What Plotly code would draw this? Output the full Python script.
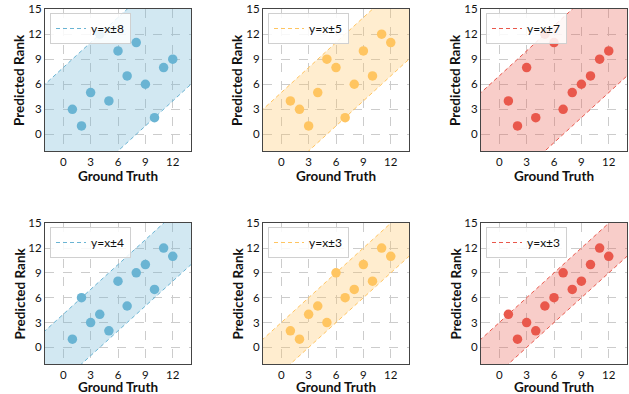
import plotly.graph_objects as go

ground_truth = [1, 2, 3, 4, 5, 6, 7, 8, 9, 10, 11, 12]
pred_1 = [3, 1, 5, 12, 4, 10, 7, 11, 6, 2, 8, 9]
pred_2 = [4, 3, 1, 5, 9, 8, 2, 6, 10, 7, 12, 11]
pred_3 = [4, 1, 8, 2, 12, 11, 3, 5, 6, 7, 9, 10]
pred_4 = [1, 6, 3, 4, 2, 8, 5, 9, 10, 7, 12, 11]
pred_5 = [2, 1, 4, 5, 3, 9, 6, 7, 10, 8, 12, 11]
pred_6 = [4, 1, 3, 2, 5, 6, 9, 7, 8, 10, 12, 11]
margins = [8, 5, 7, 4, 3, 3]
x_ticks = [0, 3, 6, 9, 12]
y_ticks = [0, 3, 6, 9, 12, 15]
x_title = "Ground Truth"
y_title = "Predicted Rank"

preds = [pred_1, pred_2, pred_3, pred_4, pred_5, pred_6]
colors = ["#6AB4D3", "#FFC561", "#E9584C"] * 2
fills = ["rgba(106,180,211,0.3)", "rgba(255,197,97,0.3)", "rgba(233,88,76,0.3)"] * 2

W, H = 629, 394
col_px = [(45, 191), (263, 409), (481, 627)]
row_px = [(9, 151), (223, 364)]
title_gap = [24.5, 22.5]

fig = go.Figure()
font = "Lato, 'Open Sans', sans-serif"
band_x = [-30, 40]
annotations = []

for i in range(6):
    r, c = divmod(i, 3)
    ax = "" if i == 0 else str(i + 1)
    xa, ya = "x" + ax, "y" + ax
    lg = "legend" if i == 0 else "legend" + str(i + 1)
    k = margins[i]
    col = colors[i]
    # lower bound (carries legend entry)
    fig.add_trace(go.Scatter(x=band_x, y=[v - k for v in band_x], mode="lines",
                             line=dict(color=col, width=1, dash="4px,3px"),
                             name="y=x\u00b1%d" % k, legend=lg,
                             xaxis=xa, yaxis=ya, showlegend=True, hoverinfo="skip"))
    # upper bound with fill
    fig.add_trace(go.Scatter(x=band_x, y=[v + k for v in band_x], mode="lines",
                             line=dict(color=col, width=1, dash="4px,3px"),
                             fill="tonexty", fillcolor=fills[i],
                             xaxis=xa, yaxis=ya, showlegend=False, hoverinfo="skip"))
    fig.add_trace(go.Scatter(x=ground_truth, y=preds[i], mode="markers",
                             marker=dict(color=col, size=9.5),
                             xaxis=xa, yaxis=ya, showlegend=False))
    x0, x1 = col_px[c]
    y0, y1 = row_px[r]
    dom_x = [x0 / W, x1 / W]
    dom_y = [1 - y1 / H, 1 - y0 / H]
    axis_common = dict(showgrid=True, gridcolor="#cccccc", griddash="dash", gridwidth=1,
                       showline=True, mirror=True, linecolor="#444", linewidth=1,
                       zeroline=False, ticks="", automargin=False,
                       tickfont=dict(family=font, size=11.5, color="#111"))
    fig.update_layout(**{
        ("xaxis" + ax): dict(domain=dom_x, range=[-2, 14], anchor=ya, tickvals=x_ticks,
                             **axis_common),
        ("yaxis" + ax): dict(domain=dom_y, range=[-2, 15.02], anchor=xa, tickvals=y_ticks,
                             **axis_common),
        lg: dict(x=dom_x[0] + 5 / W, y=dom_y[1] - 4 / H, xanchor="left", yanchor="top",
                 bgcolor="rgba(255,255,255,0.85)", bordercolor="#d0d0d0", borderwidth=1,
                 font=dict(family=font, size=12, color="#111"),
                 itemwidth=30, tracegroupgap=0),
    })
    annotations.append(dict(text="<b>%s</b>" % x_title, xref="paper", yref="paper",
                            x=(dom_x[0] + dom_x[1]) / 2, y=1 - (y1 + title_gap[r]) / H,
                            xanchor="center", yanchor="middle", showarrow=False,
                            font=dict(family=font, size=13.5, color="#111")))
    annotations.append(dict(text="<b>%s</b>" % y_title, xref="paper", yref="paper",
                            x=(x0 - 26) / W, y=(dom_y[0] + dom_y[1]) / 2, textangle=-90,
                            xanchor="center", yanchor="middle", showarrow=False,
                            font=dict(family=font, size=13.5, color="#111")))

fig.update_layout(width=W, height=H, margin=dict(l=0, r=0, t=0, b=0),
                  plot_bgcolor="white", paper_bgcolor="white", showlegend=True,
                  annotations=annotations)
fig.update_xaxes(tickprefix="<b>", ticksuffix="</b>")
fig.update_yaxes(tickprefix="<b>", ticksuffix="</b>")
fig.write_html("out.html", post_script="document.body.style.margin='0';",
               config={"displayModeBar": False})
